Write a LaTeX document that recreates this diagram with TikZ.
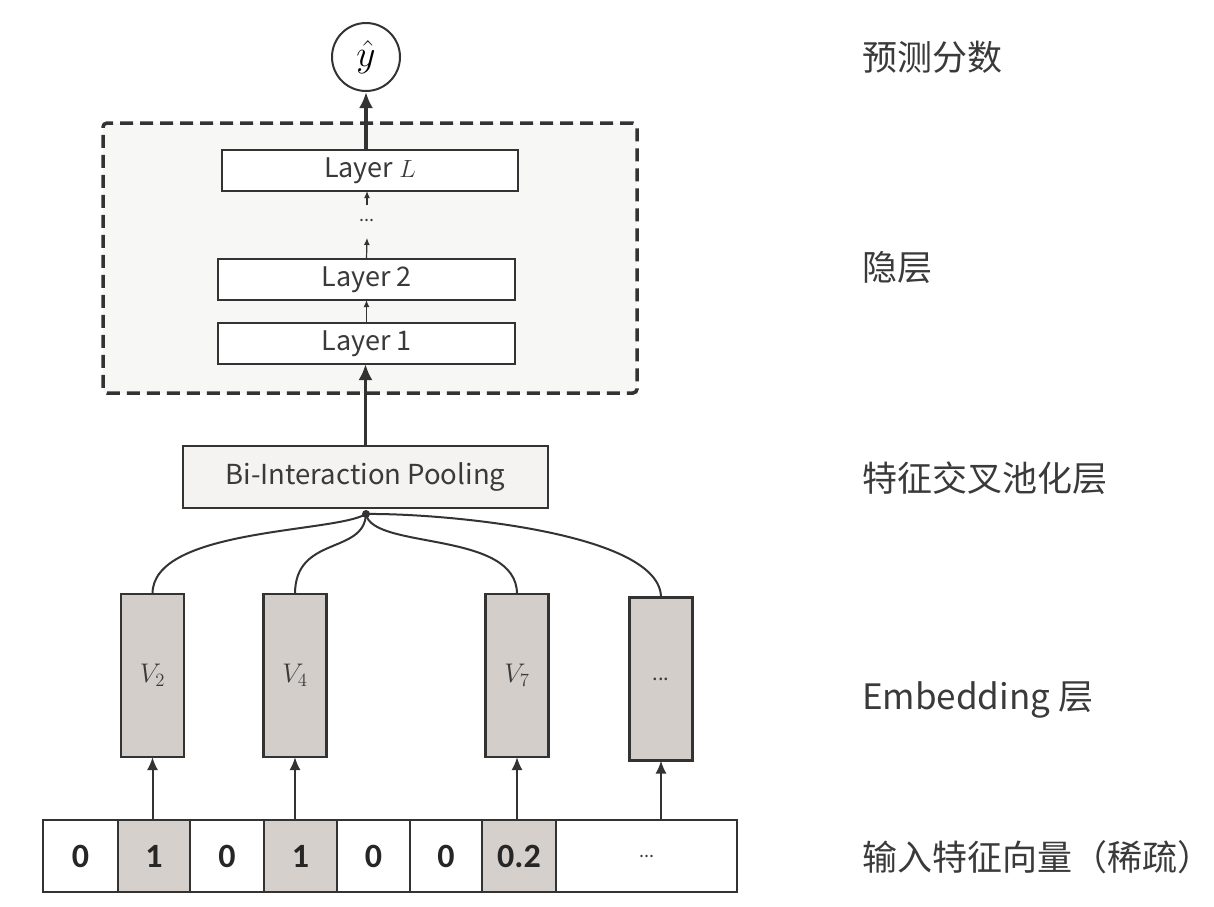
\documentclass[tikz,border=0pt]{standalone}
\usepackage{fontspec}
\usepackage{graphicx}
\usetikzlibrary{arrows.meta}
\setmainfont{Noto Sans CJK SC}
\newfontfamily\numfont{Carlito}
\definecolor{ink}{HTML}{333333}
\definecolor{txt}{HTML}{3A3A3A}
\definecolor{embfill}{HTML}{D3CECA}
\definecolor{cellfill}{HTML}{D5D0CC}
\definecolor{hidfill}{HTML}{F7F7F6}
\definecolor{bifill}{HTML}{F4F3F1}
\tikzset{
  layerbox/.style={draw=ink, line width=2.2pt, fill=white, inner sep=0pt, outer sep=0pt,
    minimum width=297, minimum height=41, text=txt, font=\fontsize{27}{30}\selectfont},
  embbox/.style={draw=ink, line width=2.2pt, fill=embfill, minimum width=63, minimum height=163,
    inner sep=0pt, outer sep=0pt, text=txt, font=\fontsize{20}{24}\selectfont},
  cellbox/.style={draw=ink, line width=2pt, minimum height=72, inner sep=0pt, outer sep=0pt,
    font=\numfont\bfseries\fontsize{34}{38}\selectfont, text=black!85},
  thickarrow/.style={draw=ink, line width=3.5pt, -{Latex[length=16pt,width=14pt]}},
  thinarrow/.style={draw=ink, line width=2pt, -{Latex[length=13pt,width=11pt]}},
  smallarrow/.style={draw=ink, line width=1.2pt, -{Latex[length=7pt,width=6pt]}},
  curveline/.style={draw=ink, line width=2pt},
  sidelabel/.style={anchor=west, inner sep=0pt, font=\fontsize{35}{40}\selectfont, text=txt}
}
\begin{document}
\begin{tikzpicture}[x=1pt,y=-1pt]
\useasboundingbox[fill=white] (0,0) rectangle (1214,906);

% hidden-layer dashed frame
\node[draw=ink, fill=hidfill, line width=3.5pt, dash pattern=on 13pt off 7pt,
  rounded corners=4pt, minimum width=534, minimum height=270, inner sep=0pt] (hid) at (370,258) {};

% output
\node[draw=ink, line width=2pt, circle, fill=white, minimum size=68, inner sep=0pt] (out) at (366,57)
  {\scalebox{1.8}{\fontsize{20}{24}\selectfont$\hat{y}$}};

% layers
\node[layerbox, minimum width=296] (lL) at (370,170.5) {Layer $L$};
\node[layerbox] (l2) at (366.5,279.5) {Layer 2};
\node[layerbox] (l1) at (366.5,343.5) {Layer 1};
\node[inner sep=0pt, text=txt, font=\fontsize{18}{20}\selectfont] (dots) at (367,220) {...};
\coordinate (dtop) at (367,205);
\coordinate (dbot) at (367,238);

% bi-interaction
\node[draw=ink, line width=2.2pt, fill=bifill, minimum width=365, minimum height=62, inner sep=0pt,
  text=txt, font=\fontsize{27.5}{30}\selectfont] (bi) at (365.5,477) {Bi-Interaction Pooling};
\coordinate (j) at (366,514);
\fill[ink] (j) circle (4pt);

% embeddings
\node[embbox] (v2) at (152.5,675.5) {\scalebox{1.3}{$V_2$}};
\node[embbox] (v4) at (295,675.5) {\scalebox{1.3}{$V_4$}};
\node[embbox] (v7) at (517,675.5) {\scalebox{1.3}{$V_7$}};
\node[embbox] (ve) at (661,679) {...};

% input vector
\node[cellbox, minimum width=75] (c1) at (80.5,856) {0};
\node[cellbox, minimum width=72, fill=cellfill] (c2) at (154,856) {1};
\node[cellbox, minimum width=74] (c3) at (227,856) {0};
\node[cellbox, minimum width=73, fill=cellfill] (c4) at (300.5,856) {1};
\node[cellbox, minimum width=73] (c5) at (373.5,856) {0};
\node[cellbox, minimum width=72] (c6) at (446,856) {0};
\node[cellbox, minimum width=74, fill=cellfill] (c7) at (519,856) {0.2};
\node[cellbox, minimum width=181, font=\fontsize{18}{20}\selectfont, text=txt] (c8) at (646.5,856) {...};

% arrows
\draw[thickarrow] (out.south |- lL.north) -- (out.south);
\draw[smallarrow] (dtop) -- (dtop |- lL.south);
\draw[smallarrow] (l2.north) -- (dbot);
\draw[smallarrow] (l1.north) -- (l2.south);
\draw[thickarrow] (bi.north) -- (bi.north |- l1.south);

\draw[thinarrow] (v2.south |- c2.north) -- (v2.south);
\draw[thinarrow] (v4.south |- c4.north) -- (v4.south);
\draw[thinarrow] (v7.south |- c7.north) -- (v7.south);
\draw[thinarrow] (ve.south |- c8.north) -- (ve.south);

% curves to the junction
\draw[curveline] (j) .. controls (335,533) and (152,528) .. (v2.north);
\draw[curveline] (j) .. controls (364,555) and (295,535) .. (v4.north);
\draw[curveline] (j) .. controls (372,550) and (517,530) .. (v7.north);
\draw[curveline] (j) .. controls (440,513) and (661,532) .. (ve.north);

% side labels
\node[sidelabel] (t1) at (862,57) {预测分数};
\node[sidelabel] (t2) at (862,268) {隐层};
\node[sidelabel] (t3) at (862,478) {特征交叉池化层};
\node[sidelabel] (t4) at (862,700) {Embedding 层};
\node[sidelabel] (t5) at (862,857) {输入特征向量（稀疏）};
\end{tikzpicture}
\end{document}
